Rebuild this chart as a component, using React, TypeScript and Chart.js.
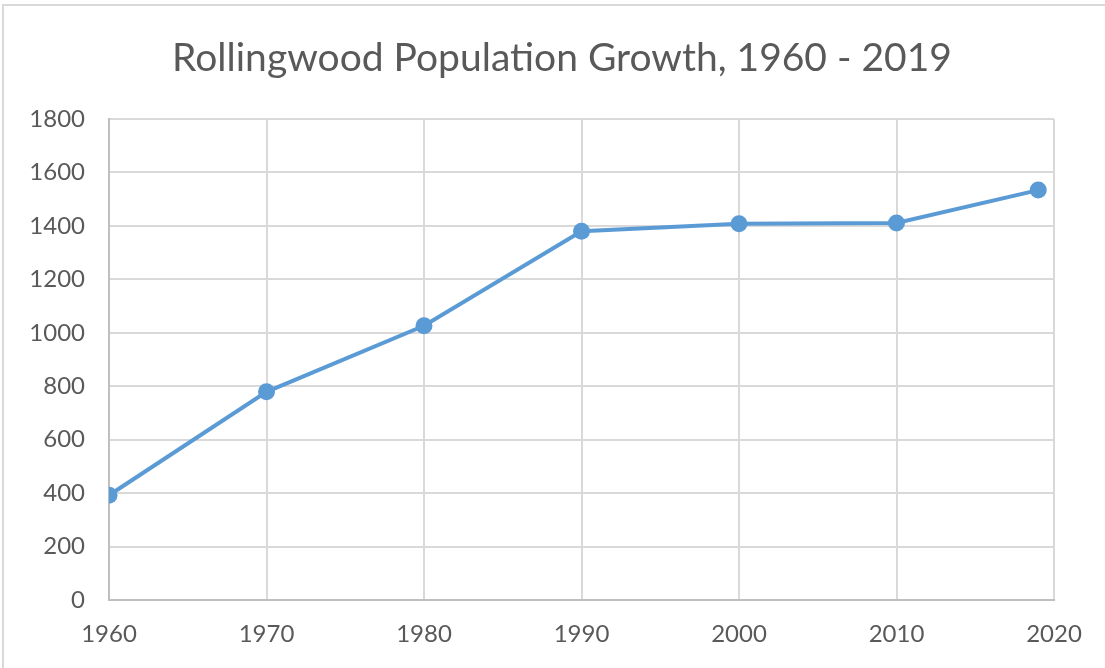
import React, { useEffect, useRef } from "react";
import { Chart, registerables } from "chart.js";

Chart.register(...registerables);

const titleText = "Rollingwood Population Growth, 1960 - 2019";
const years = [1960, 1970, 1980, 1990, 2000, 2010, 2019];
const population = [392, 779, 1026, 1380, 1408, 1411, 1534];
const xMin = 1960;
const xMax = 2020;
const xStep = 10;
const yMin = 0;
const yMax = 1800;
const yStep = 200;

const FONT = "Lato, 'Open Sans', sans-serif";
const TEXT = "#595959";

const titlePlugin = {
  id: "customTitle",
  afterDraw(chart: any) {
    const ctx = chart.ctx;
    ctx.save();
    ctx.font = `39px ${FONT}`;
    ctx.fillStyle = TEXT;
    ctx.textAlign = "center";
    ctx.textBaseline = "middle";
    ctx.fillText(titleText, 562, 58);
    ctx.restore();
  },
};

export default function App() {
  const ref = useRef<HTMLCanvasElement | null>(null);

  useEffect(() => {
    document.body.style.margin = "0";
    if (!ref.current) return;
    const chart = new Chart(ref.current, {
      type: "line",
      data: {
        datasets: [
          {
            data: years.map((y, i) => ({ x: y, y: population[i] })),
            borderColor: "#5b9bd5",
            backgroundColor: "#5b9bd5",
            borderWidth: 4,
            pointRadius: 8.5,
            pointBorderWidth: 0,
            pointBackgroundColor: "#5b9bd5",
            tension: 0,
            fill: false,
          },
        ],
      },
      plugins: [titlePlugin],
      options: {
        animation: false,
        responsive: false,
        maintainAspectRatio: false,
        layout: { padding: { left: 0, right: 51, top: 119, bottom: 0 } },
        plugins: {
          legend: { display: false },
          tooltip: { enabled: false },
          title: { display: false },
        },
        scales: {
          x: {
            type: "linear",
            min: xMin,
            max: xMax,
            afterFit: (s: any) => {
              s.height = 68;
            },
            afterBuildTicks: (s: any) => {
              const t = [];
              for (let v = xMin; v <= xMax; v += xStep) t.push({ value: v });
              s.ticks = t;
            },
            ticks: {
              color: TEXT,
              font: { family: FONT, size: 24 },
              padding: 20,
              maxRotation: 0,
              callback: (v: any) => String(v),
            },
            grid: { color: "#d9d9d9", lineWidth: 2, drawTicks: false },
            border: { color: "#bfbfbf", width: 2 },
          },
          y: {
            min: yMin,
            max: yMax,
            afterFit: (s: any) => {
              s.width = 109;
            },
            ticks: {
              stepSize: yStep,
              color: TEXT,
              font: { family: FONT, size: 24 },
              padding: 24,
              callback: (v: any) => String(v),
            },
            grid: { color: "#d9d9d9", lineWidth: 2, drawTicks: false },
            border: { color: "#bfbfbf", width: 2 },
          },
        },
      },
    });
    return () => chart.destroy();
  }, []);

  return (
    <div style={{ position: "relative", width: 1105, height: 668, background: "#fff", overflow: "hidden" }}>
      <div
        style={{
          position: "absolute",
          left: 2,
          top: 4,
          width: 1200,
          height: 800,
          borderTop: "2px solid #d9d9d9",
          borderLeft: "2px solid #d9d9d9",
        }}
      />
      <canvas ref={ref} width={1105} height={668} style={{ position: "absolute", left: 0, top: 0 }} />
    </div>
  );
}
